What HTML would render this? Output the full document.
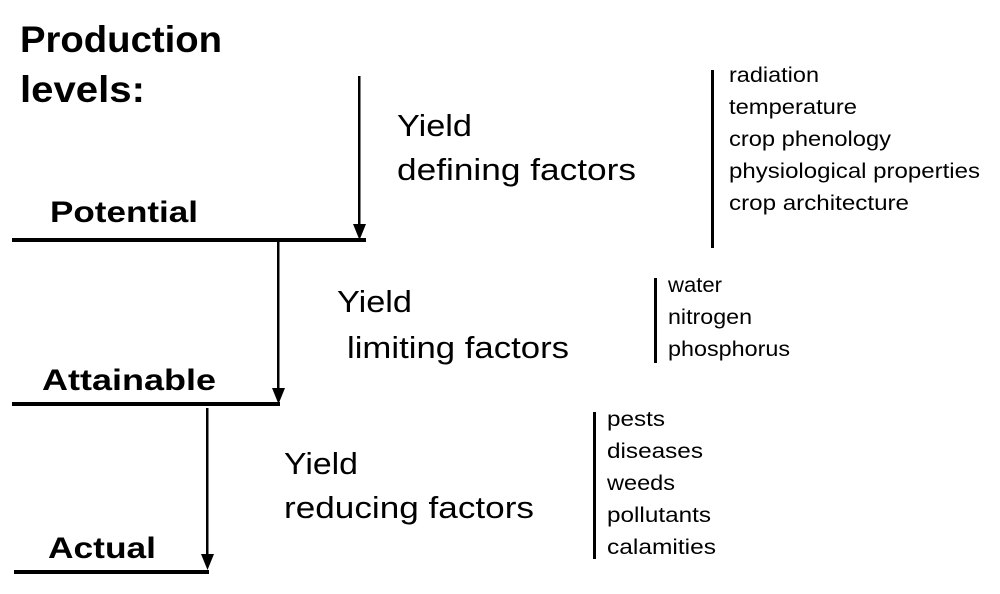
<!DOCTYPE html>
<html><head><style>
html,body{margin:0;padding:0;background:#fff;}
svg{display:block;}
text{font-family:"Liberation Sans",Arial,sans-serif;fill:#000;}
.b{font-weight:bold;}
</style></head><body>
<svg width="1000" height="594" viewBox="0 0 1000 594" xmlns="http://www.w3.org/2000/svg">
<g lengthAdjust="spacingAndGlyphs">
<text x="20" y="52" class="b" font-size="37" textLength="202" lengthAdjust="spacingAndGlyphs">Production</text>
<text x="20" y="102" class="b" font-size="37" textLength="125" lengthAdjust="spacingAndGlyphs">levels:</text>
<text x="50" y="222" class="b" font-size="30" textLength="148" lengthAdjust="spacingAndGlyphs">Potential</text>
<text x="42" y="390" class="b" font-size="30" textLength="174" lengthAdjust="spacingAndGlyphs">Attainable</text>
<text x="48" y="558" class="b" font-size="30" textLength="108" lengthAdjust="spacingAndGlyphs">Actual</text>
</g>
<rect x="12" y="238" width="354" height="4"/>
<rect x="12" y="402" width="268" height="4"/>
<rect x="14" y="570" width="195" height="4"/>
<rect x="358" y="76" width="2.5" height="150"/>
<path d="M353,224 L366,224 L359.5,240 z"/>
<rect x="277" y="242" width="2.5" height="148"/>
<path d="M272,388 L285,388 L278.5,404 z"/>
<rect x="206" y="408" width="2.5" height="148"/>
<path d="M201,554 L214,554 L207.5,570 z"/>
<text x="397" y="136" font-size="31" textLength="75" lengthAdjust="spacingAndGlyphs">Yield</text>
<text x="397" y="180" font-size="31" textLength="239" lengthAdjust="spacingAndGlyphs">defining factors</text>
<text x="337" y="312" font-size="31" textLength="75" lengthAdjust="spacingAndGlyphs">Yield</text>
<text x="347" y="358" font-size="31" textLength="222" lengthAdjust="spacingAndGlyphs">limiting factors</text>
<text x="284" y="474" font-size="31" textLength="74" lengthAdjust="spacingAndGlyphs">Yield</text>
<text x="284" y="518" font-size="31" textLength="250" lengthAdjust="spacingAndGlyphs">reducing factors</text>
<rect x="711" y="70" width="3" height="178"/>
<rect x="654" y="278" width="3" height="85"/>
<rect x="593" y="412" width="3" height="147"/>
<g font-size="21">
<text x="729" y="82" textLength="90" lengthAdjust="spacingAndGlyphs">radiation</text>
<text x="729" y="114" textLength="128" lengthAdjust="spacingAndGlyphs">temperature</text>
<text x="729" y="146" textLength="162" lengthAdjust="spacingAndGlyphs">crop phenology</text>
<text x="729" y="178" textLength="251" lengthAdjust="spacingAndGlyphs">physiological properties</text>
<text x="729" y="210" textLength="180" lengthAdjust="spacingAndGlyphs">crop architecture</text>
<text x="668" y="292" textLength="54" lengthAdjust="spacingAndGlyphs">water</text>
<text x="668" y="324" textLength="84" lengthAdjust="spacingAndGlyphs">nitrogen</text>
<text x="668" y="356" textLength="122" lengthAdjust="spacingAndGlyphs">phosphorus</text>
<text x="607" y="426" textLength="58" lengthAdjust="spacingAndGlyphs">pests</text>
<text x="607" y="458" textLength="96" lengthAdjust="spacingAndGlyphs">diseases</text>
<text x="607" y="490" textLength="68" lengthAdjust="spacingAndGlyphs">weeds</text>
<text x="607" y="522" textLength="104" lengthAdjust="spacingAndGlyphs">pollutants</text>
<text x="607" y="554" textLength="109" lengthAdjust="spacingAndGlyphs">calamities</text>
</g>
</svg>
</body></html>
